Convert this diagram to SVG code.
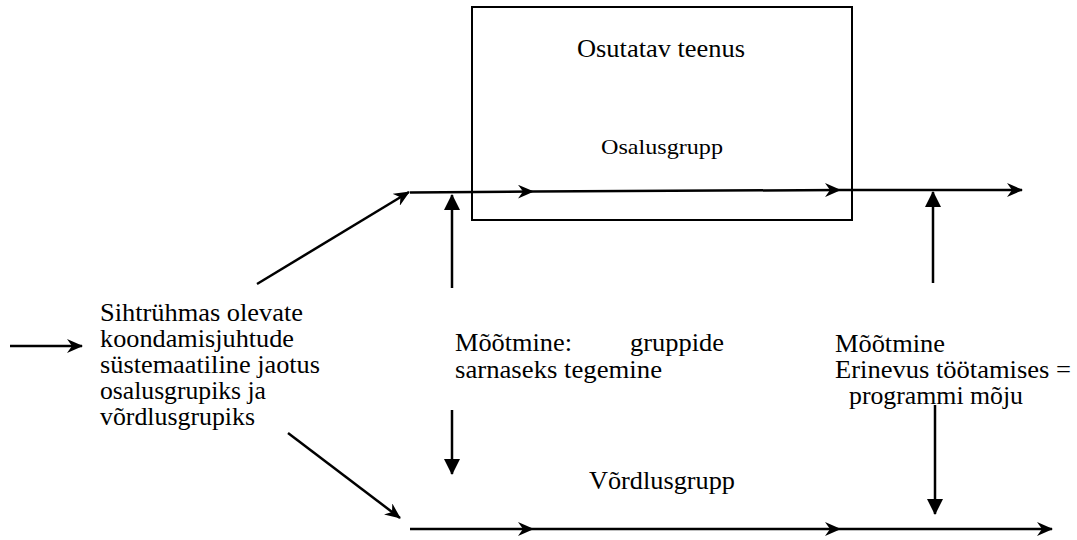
<svg xmlns="http://www.w3.org/2000/svg" width="1077" height="540" viewBox="0 0 1077 540">
<style>
.ln{stroke:#000;stroke-width:2.5;fill:none}
</style>
<defs>
<marker id="st" viewBox="0 0 16 14" refX="15" refY="7" markerWidth="16" markerHeight="14" markerUnits="userSpaceOnUse" orient="auto">
<path d="M0,0 L16,7 L0,14 L5,7 Z" fill="#000"/>
</marker>
<marker id="tri" viewBox="0 0 16 16" refX="15" refY="8" markerWidth="16" markerHeight="16" markerUnits="userSpaceOnUse" orient="auto">
<path d="M0,0 L16,8 L0,16 Z" fill="#000"/>
</marker>
</defs>
<rect width="1077" height="540" fill="#fff"/>
<g font-family="'Liberation Serif', 'Times New Roman', serif" font-size="25" fill="#000">
<g id="service">
<rect x="472" y="7" width="380" height="213" fill="none" stroke="#000" stroke-width="2"/>
<text x="577" y="57" textLength="168" lengthAdjust="spacingAndGlyphs">Osutatav teenus</text>
<text font-size="22" x="601" y="154" textLength="122" lengthAdjust="spacingAndGlyphs">Osalusgrupp</text>
</g>
<g id="sihtruhm">
<text x="100" y="321" textLength="203" lengthAdjust="spacingAndGlyphs">Sihtrühmas olevate</text>
<text x="100" y="347" textLength="194" lengthAdjust="spacingAndGlyphs">koondamisjuhtude</text>
<text x="100" y="373" textLength="220" lengthAdjust="spacingAndGlyphs">süstemaatiline jaotus</text>
<text x="100" y="399" textLength="166" lengthAdjust="spacingAndGlyphs">osalusgrupiks ja</text>
<text x="100" y="425" textLength="155" lengthAdjust="spacingAndGlyphs">võrdlusgrupiks</text>
</g>
<g id="mootmine1">
<text x="455" y="351" textLength="117" lengthAdjust="spacingAndGlyphs">Mõõtmine:</text>
<text x="630" y="351" textLength="94" lengthAdjust="spacingAndGlyphs">gruppide</text>
<text x="455" y="378" textLength="207" lengthAdjust="spacingAndGlyphs">sarnaseks tegemine</text>
</g>
<g id="mootmine2">
<text x="835" y="352" textLength="110" lengthAdjust="spacingAndGlyphs">Mõõtmine</text>
<text x="835" y="378" textLength="236" lengthAdjust="spacingAndGlyphs">Erinevus töötamises =</text>
<text x="849" y="404" textLength="174" lengthAdjust="spacingAndGlyphs">programmi mõju</text>
</g>
<g id="vordlusgrupp">
<text x="589" y="489" textLength="146" lengthAdjust="spacingAndGlyphs">Võrdlusgrupp</text>
</g>
</g>
<g id="connectors">
<line class="ln" x1="10" y1="346" x2="82" y2="346" marker-end="url(#st)"/>
<line class="ln" x1="257" y1="284" x2="409" y2="192" marker-end="url(#st)"/>
<line class="ln" x1="288" y1="433" x2="400" y2="518" marker-end="url(#st)"/>
<line class="ln" x1="410" y1="192.5" x2="533" y2="191.5" marker-end="url(#st)"/>
<line class="ln" x1="533" y1="191.5" x2="840" y2="190" marker-end="url(#st)"/>
<line class="ln" x1="840" y1="190" x2="1022" y2="190" marker-end="url(#st)"/>
<line class="ln" x1="410" y1="529" x2="533" y2="529" marker-end="url(#st)"/>
<line class="ln" x1="533" y1="529" x2="840" y2="529" marker-end="url(#st)"/>
<line class="ln" x1="840" y1="529" x2="1052" y2="529" marker-end="url(#st)"/>
<line class="ln" x1="452" y1="288" x2="452" y2="195" marker-end="url(#tri)"/>
<line class="ln" x1="933" y1="283" x2="933" y2="192" marker-end="url(#tri)"/>
<line class="ln" x1="452" y1="410" x2="452" y2="474" marker-end="url(#tri)"/>
<line class="ln" x1="935" y1="405" x2="935" y2="514" marker-end="url(#tri)"/>
</g>
</svg>
